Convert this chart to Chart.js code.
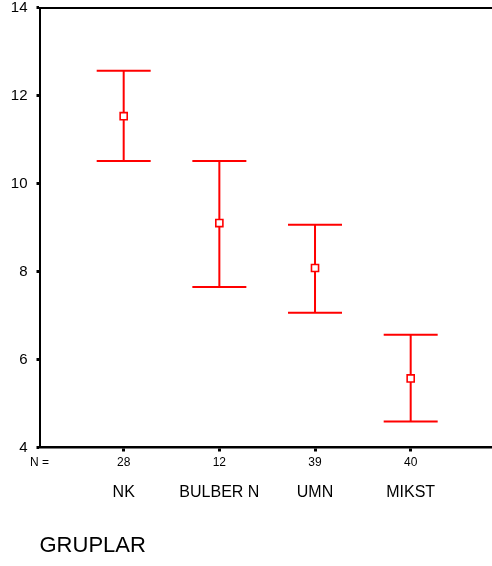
<!DOCTYPE html>
<html>
<head>
<meta charset="utf-8">
<script src="https://cdn.jsdelivr.net/npm/chart.js@4"></script>
<style>
    body { margin: 0; background: #fff; }
    #wrap { width: 492px; height: 566px; position: relative; }
</style>
</head>
<body>
<div id="wrap"><canvas id="chart"></canvas></div>
<script>
// groups on the x axis and their sample sizes
const groups = ['NK', 'BULBER N', 'UMN', 'MIKST'];
const counts = [28, 12, 39, 40];

// mean and 95% CI bounds per group
const means = [11.53, 9.10, 8.08, 5.57];
const lower = [10.51, 7.65, 7.06, 4.59];
const upper = [12.56, 10.51, 9.06, 6.56];

const yTicks = [4, 6, 8, 10, 12, 14];

const red = '#ff0000';
const fontFamily = '"Liberation Sans", Arial, sans-serif';

// error bars drawn under the mean markers
const errorBars = {
    id: 'errorBars',
    beforeDatasetsDraw(chart) {
        const ctx = chart.ctx;
        const xs = chart.scales.x;
        const ys = chart.scales.y;
        const cap = 27;
        ctx.save();
        ctx.strokeStyle = red;
        ctx.lineWidth = 2;
        groups.forEach(function (g, i) {
            let px = xs.getPixelForValue(i + 1);
            let top = ys.getPixelForValue(upper[i]);
            let bot = ys.getPixelForValue(lower[i]);
            ctx.beginPath();
            ctx.moveTo(px, top);
            ctx.lineTo(px, bot);
            ctx.moveTo(px - cap, top);
            ctx.lineTo(px + cap, top);
            ctx.moveTo(px - cap, bot);
            ctx.lineTo(px + cap, bot);
            ctx.stroke();
        });
        ctx.restore();
    }
};

function groupTicks(scale, withN) {
    let t = groups.map(function (g, i) { return { value: i + 1 }; });
    if (withN) t.unshift({ value: scale.min });
    scale.ticks = t;
}

// fixed box sizes, no extra room for overhanging labels
function fixSize(w, h) {
    return function (scale) {
        if (w !== null) scale.width = w;
        if (h !== null) scale.height = h;
        scale.paddingTop = 0;
        scale.paddingBottom = 0;
        scale.paddingLeft = 0;
        scale.paddingRight = 0;
    };
}

new Chart(document.getElementById('chart'), {
    type: 'scatter',
    data: {
        datasets: [{
            data: means.map(function (m, i) { return { x: i + 1, y: m }; }),
            pointStyle: 'rect',
            pointRadius: 5,
            borderWidth: 1.6,
            borderColor: red,
            backgroundColor: '#ffffff'
        }]
    },
    options: {
        responsive: true,
        maintainAspectRatio: false,
        animation: false,
        layout: {
            autoPadding: false,
            padding: { top: 7.5, right: 0, left: 0, bottom: 0 }
        },
        plugins: {
            legend: { display: false },
            tooltip: { enabled: false }
        },
        scales: {
            y: {
                min: 4,
                max: 14,
                afterBuildTicks: function (scale) {
                    scale.ticks = yTicks.map(function (v) { return { value: v }; });
                },
                afterFit: fixSize(39.5, null),
                border: { display: true, color: '#000', width: 2 },
                grid: {
                    drawOnChartArea: false,
                    drawTicks: true,
                    tickLength: 3,
                    tickWidth: 3,
                    tickColor: '#000'
                },
                ticks: {
                    padding: 9,
                    color: '#000',
                    font: { family: fontFamily, size: 15 }
                }
            },
            x: {
                type: 'linear',
                position: 'bottom',
                min: 0.12,
                max: 4.85,
                afterBuildTicks: function (scale) { groupTicks(scale, true); },
                afterFit: fixSize(null, 24),
                border: { display: true, color: '#000', width: 2.5 },
                grid: {
                    drawOnChartArea: false,
                    drawTicks: true,
                    tickLength: 4,
                    tickWidth: 3,
                    tickColor: function (c) { return c.index === 0 ? 'rgba(0,0,0,0)' : '#000'; }
                },
                ticks: {
                    autoSkip: false,
                    maxRotation: 0,
                    padding: 4.3,
                    color: '#000',
                    font: { family: fontFamily, size: 12 },
                    callback: function (v, i) { return i === 0 ? 'N =' : String(counts[i - 1]); }
                }
            },
            x2: {
                type: 'linear',
                position: 'bottom',
                min: 0.12,
                max: 4.85,
                afterBuildTicks: function (scale) { groupTicks(scale, false); },
                afterFit: fixSize(null, 94.5),
                border: { display: false },
                grid: { display: false, drawTicks: false },
                ticks: {
                    autoSkip: false,
                    maxRotation: 0,
                    padding: 11.4,
                    color: '#000',
                    font: { family: fontFamily, size: 16 },
                    callback: function (v, i) { return groups[i]; }
                },
                title: {
                    display: true,
                    text: 'GRUPLAR',
                    align: 'start',
                    color: '#000',
                    padding: { top: 0, bottom: 6.8 },
                    font: { family: fontFamily, size: 22 }
                }
            },
            xTop: {
                type: 'linear',
                position: 'top',
                min: 0.12,
                max: 4.85,
                afterFit: fixSize(null, 0),
                border: { display: true, color: '#000', width: 2 },
                grid: { display: false, drawTicks: false },
                ticks: { display: false }
            }
        }
    },
    plugins: [errorBars]
});
</script>
</body>
</html>
